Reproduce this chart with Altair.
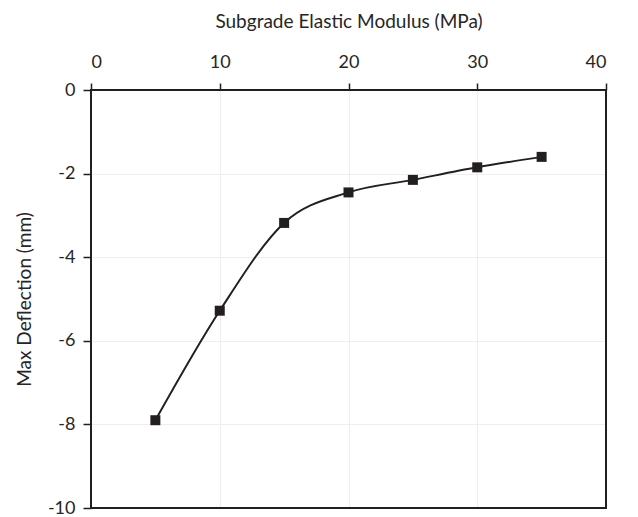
import altair as alt
import pandas as pd

modulus = [5, 10, 15, 20, 25, 30, 35]
deflection = [-7.9, -5.28, -3.18, -2.45, -2.15, -1.85, -1.6]

df = pd.DataFrame({"E": modulus, "D": deflection})

FONT = "Lato"
DARK = "#231f20"
TXT = "#262626"
LBL = "datum.value < 0 ? '-' + abs(datum.value) : '' + datum.value"

x = alt.X("E:Q", scale=alt.Scale(domain=[0, 40], nice=False),
          axis=alt.Axis(orient="top", values=[0, 10, 20, 30, 40], title="Subgrade Elastic Modulus (MPa)",
                        titleFontSize=19, titleFontWeight="normal", titleColor=TXT, titlePadding=22,
                        labelFontSize=18, labelColor=TXT, labelPadding=12, labelExpr=LBL,
                        tickSize=7, tickColor=DARK, tickWidth=1.5,
                        domain=False, gridColor="#eeeeee", gridWidth=1.2))
y = alt.Y("D:Q", scale=alt.Scale(domain=[-10, 0], nice=False),
          axis=alt.Axis(values=[-10, -8, -6, -4, -2, 0], title="Max Deflection (mm)",
                        titleFontSize=19, titleFontWeight="normal", titleColor=TXT, titlePadding=13,
                        labelFontSize=18, labelColor=TXT, labelPadding=8, labelExpr=LBL,
                        tickSize=8, tickColor=DARK, tickWidth=1.5,
                        domain=False, gridColor="#eeeeee", gridWidth=1.2))

line = alt.Chart(df).mark_line(color=DARK, strokeWidth=2, interpolate="monotone").encode(x=x, y=y)
pts = alt.Chart(df).mark_point(shape="square", filled=True, size=100, color=DARK, opacity=1).encode(x="E:Q", y="D:Q")
frame = alt.Chart(df).mark_rect(fillOpacity=0, stroke=DARK, strokeWidth=2).encode(
    x=alt.datum(0), x2=alt.datum(40), y=alt.datum(-10), y2=alt.datum(0))

chart = (line + pts + frame).properties(
    width=515, height=418,
    autosize=alt.AutoSizeParams(type="none"),
    padding={"left": 83, "top": 82, "right": 20, "bottom": 9},
).configure_view(stroke=None).configure(font=FONT)

chart.save("out.html", embed_options={"renderer": "svg", "actions": False})
